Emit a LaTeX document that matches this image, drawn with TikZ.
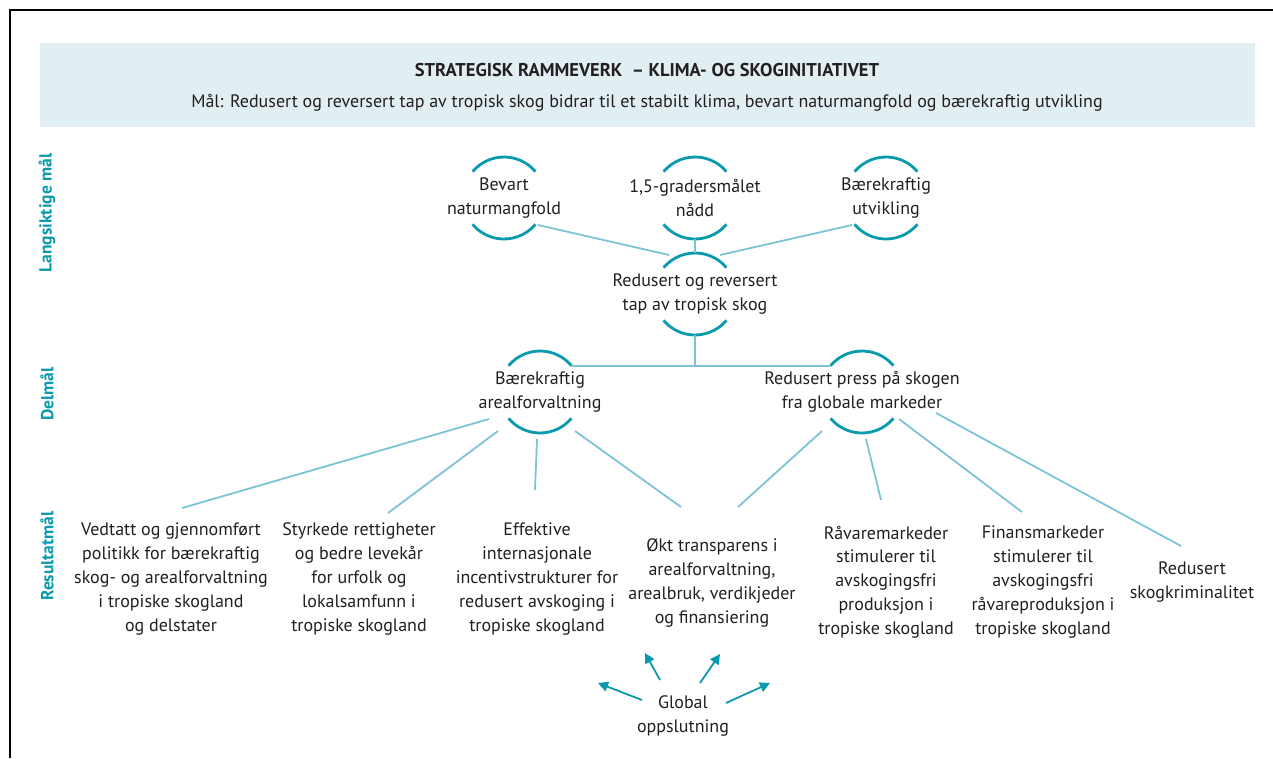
\documentclass[tikz,border=0pt]{standalone}
\usepackage{fontspec}
\setmainfont{PT Sans}
\usetikzlibrary{calc,arrows.meta}
\definecolor{teal1}{HTML}{0A9AAE}
\definecolor{lineblue}{HTML}{7CC4D4}
\definecolor{bandblue}{HTML}{E1EEF2}
\definecolor{txtc}{HTML}{231F20}
\begin{document}
\begin{tikzpicture}[x=1pt,y=-1pt,
  txt/.style={text=txtc,align=center,inner sep=0pt,font=\fontsize{18}{23.8}\selectfont},
  lbl/.style={text=teal1,rotate=90,inner sep=0pt,font=\bfseries\fontsize{17.5}{20}\selectfont},
  arcst/.style={draw=teal1,line width=2.8pt},
  conn/.style={draw=lineblue,line width=1.8pt},
  arr/.style={draw=teal1,line width=1.8pt,-{Triangle[length=10pt,width=10pt]}},
  frame/.style={draw=black,line width=2pt}]
\useasboundingbox (0,0) rectangle (1273,758);
% frame
\draw[frame] (10,758) -- (10,10) -- (1273,10);
% band
\fill[bandblue] (40,43) rectangle (1255,127);
\node[txt,font=\bfseries\fontsize{18.5}{20}\selectfont] (title) at (647,70) {STRATEGISK RAMMEVERK\ \ – KLIMA- OG SKOGINITIATIVET};
\node[txt] (sub) at (647,103) {Mål: Redusert og reversert tap av tropisk skog bidrar til et stabilt klima, bevart naturmangfold og bærekraftig utvikling};
% side labels
\node[lbl] (l1) at (47,213) {Langsiktige mål};
\node[lbl] (l2) at (47,394) {Delmål};
\node[lbl] (l3) at (47,556) {Resultatmål};
% arc nodes
\node[txt] (bev) at (504,198) {Bevart\\naturmangfold};
\node[txt] (gra) at (695,198) {1,5-gradersmålet\\nådd};
\node[txt] (utv) at (886,198) {Bærekraftig\\utvikling};
\node[txt] (red) at (695,294) {Redusert og reversert\\tap av tropisk skog};
\node[txt] (are) at (540,392) {Bærekraftig\\arealforvaltning};
\node[txt] (prs) at (862,392) {Redusert press på skogen\\fra globale markeder};
\foreach \n in {bev,gra,utv,red,are,prs}{
  \draw[arcst] (\n.center) ++(220:41) arc[start angle=220,end angle=320,radius=41];
  \draw[arcst] (\n.center) ++(40:41) arc[start angle=40,end angle=140,radius=41];
}
% result nodes
\node[txt] (ved) at (171,579) {Vedtatt og gjennomført\\politikk for bærekraftig\\skog- og arealforvaltning\\i tropiske skogland\\og delstater};
\node[txt] (sty) at (359,579) {Styrkede rettigheter\\og bedre levekår\\for urfolk og\\lokalsamfunn i\\tropiske skogland};
\node[txt] (eff) at (537,579) {Effektive\\internasjonale\\incentivstrukturer for\\redusert avskoging i\\tropiske skogland};
\node[txt] (okt) at (712,583) {Økt transparens i\\arealforvaltning,\\arealbruk, verdikjeder\\og finansiering};
\node[txt] (rav) at (886,582) {Råvaremarkeder\\stimulerer til\\avskogingsfri\\produksjon i\\tropiske skogland};
\node[txt] (fin) at (1043,582) {Finansmarkeder\\stimulerer til\\avskogingsfri\\råvareproduksjon i\\tropiske skogland};
\node[txt] (kri) at (1192,582) {Redusert\\skogkriminalitet};
\node[txt] (glo) at (683,716) {Global\\oppslutning};
% upper connectors
\draw[conn] ($(bev)+(34,27)$) -- ($(red)+(-26,-39)$);
\draw[conn] ($(gra)+(0,41)$) -- ($(red)+(0,-41)$);
\draw[conn] ($(utv)+(-34,27)$) -- ($(red)+(25,-39)$);
\draw[conn] ($(are)+(31.4,-26.4)$) -- ($(prs)+(-31.4,-26.4)$);
\draw[conn] ($(red)+(0,41)$) -- ($(red)+(0,72.6)$);
% lower connectors
\draw[conn] ($(are)+(-51,27)$) -- ($(ved)+(11,-71)$);
\draw[conn] ($(are)+(-42,39)$) -- ($(sty)+(29,-66)$);
\draw[conn] ($(are)+(-3,47)$) -- ($(eff)+(-2,-89)$);
\draw[conn] ($(are)+(35,39)$) -- ($(okt)+(-31,-76)$);
\draw[conn] ($(prs)+(-40,39)$) -- ($(okt)+(26,-76)$);
\draw[conn] ($(prs)+(4,47)$) -- ($(rav)+(-5,-82)$);
\draw[conn] ($(prs)+(37,27)$) -- ($(fin)+(-21,-70)$);
\draw[conn] ($(prs)+(74,21)$) -- ($(kri)+(-11,-36)$);
% arrows
\draw[arr] ($(glo)+(-41,-16)$) -- ($(glo)+(-85,-33)$);
\draw[arr] ($(glo)+(-23,-36)$) -- ($(glo)+(-38,-63)$);
\draw[arr] ($(glo)+(17,-33)$) -- ($(glo)+(37,-62)$);
\draw[arr] ($(glo)+(43,-13)$) -- ($(glo)+(87,-33)$);
\end{tikzpicture}
\end{document}
